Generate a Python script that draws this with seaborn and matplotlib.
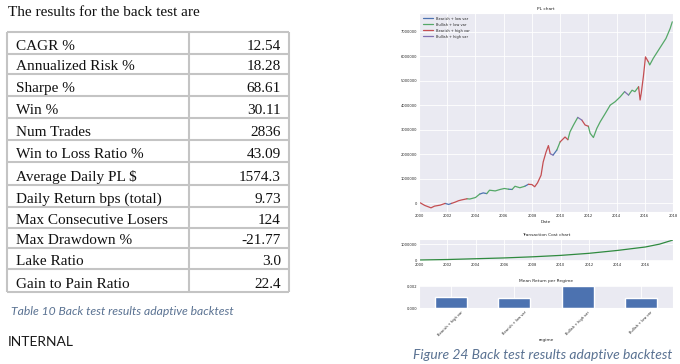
import numpy as np
import pandas as pd
import seaborn as sns
import matplotlib
matplotlib.use('Agg')
import matplotlib.pyplot as plt

# ---- table values (left side) ----
metric_names = ['CAGR %', 'Annualized Risk %', 'Sharpe %', 'Win %', 'Num Trades',
                'Win to Loss Ratio %', 'Average Daily PL $', 'Daily Return bps (total)',
                'Max Consecutive Losers', 'Max Drawdown %', 'Lake Ratio', 'Gain to Pain Ratio']
metric_values = ['12.54', '18.28', '68.61', '30.11', '2836', '43.09', '1574.3', '9.73',
                 '124', '-21.77', '3.0', '22.4']

# ---- PL chart ----
pl_years = [2000.0, 2000.07, 2000.4, 2000.85, 2001.1, 2001.5, 2001.85, 2002.1, 2002.3, 2002.55,
            2002.8, 2003.0, 2003.4, 2003.6, 2004.0, 2004.3, 2004.55, 2004.8, 2005.0, 2005.4,
            2005.75, 2006.05, 2006.35, 2006.6, 2006.8, 2007.15, 2007.5, 2007.75, 2008.0, 2008.2,
            2008.4, 2008.65, 2008.8, 2009.0, 2009.17, 2009.3, 2009.5, 2009.77, 2010.0, 2010.35,
            2010.55, 2010.7, 2010.95, 2011.25, 2011.54, 2011.77, 2012.0, 2012.13, 2012.36, 2012.6,
            2012.84, 2013.2, 2013.55, 2013.9, 2014.26, 2014.57, 2014.85, 2015.1, 2015.3, 2015.56,
            2015.67, 2015.75, 2015.9, 2016.05, 2016.25, 2016.35, 2016.6, 2016.9, 2017.2, 2017.5,
            2017.8, 2017.95]
pl_values = [0, 30000, -80000, -180000, -110000, -70000, 0, -40000, 0, 50000,
             110000, 140000, 190000, 180000, 240000, 380000, 430000, 400000, 540000, 510000,
             570000, 610000, 580000, 570000, 700000, 640000, 700000, 780000, 770000, 680000,
             840000, 1150000, 1690000, 2090000, 2360000, 2030000, 1970000, 2180000, 2510000, 2710000,
             2600000, 2920000, 3200000, 3510000, 3400000, 3200000, 3150000, 2860000, 2690000, 3060000,
             3330000, 3670000, 4010000, 4150000, 4350000, 4560000, 4420000, 4620000, 4560000, 4760000,
             4220000, 4500000, 5170000, 5980000, 5780000, 5650000, 5920000, 6190000, 6460000, 6730000,
             7140000, 7410000]
# BL bearish+low, UL bullish+low, BH bearish+high, UH bullish+high
pl_regime = ['BH', 'BH', 'BH', 'BH', 'BH', 'BH', 'BH', 'BL', 'BL', 'BH',
             'BH', 'BH', 'BH', 'UL', 'UL', 'UL', 'BL', 'BL', 'UL', 'UL',
             'UL', 'UL', 'UL', 'BL', 'UL', 'UL', 'UL', 'BL', 'BH', 'BH',
             'BH', 'BH', 'BH', 'BH', 'BH', 'BH', 'UH', 'BL', 'UL', 'BH',
             'BH', 'UL', 'UL', 'UL', 'UH', 'BH', 'BH', 'UL', 'UL', 'UL',
             'UL', 'UL', 'UL', 'UL', 'UL', 'UL', 'UH', 'UL', 'UL', 'UL',
             'BH', 'BH', 'BH', 'BH', 'BH', 'UL', 'UL', 'UL', 'UL', 'UL',
             'UL', 'UL']
regime_labels = {'BL': 'Bearish + low var', 'UL': 'Bullish + low var',
                 'BH': 'Bearish + high var', 'UH': 'Bullish + high var'}
regime_colors = {'Bearish + low var': '#4C72B0', 'Bullish + low var': '#55A868',
                 'Bearish + high var': '#C44E52', 'Bullish + high var': '#8172B2'}

# ---- transaction cost ----
tc_years = [2000, 2002, 2004, 2006, 2008, 2010, 2012, 2014, 2016, 2017, 2017.95]
tc_values = [0, 30000, 80000, 130000, 200000, 290000, 420000, 600000, 820000, 1000000, 1260000]

# ---- mean return per regime ----
bar_regimes = ['Bearish + high var', 'Bearish + low var', 'Bullish + high var', 'Bullish + low var']
bar_returns = [0.00106, 0.00091, 0.00201, 0.00091]

sns.set_style('darkgrid')
plt.rcParams['font.family'] = ['DejaVu Sans']

fig = plt.figure(figsize=(6.8, 3.64), dpi=100)
fig.patch.set_facecolor('white')

# background axes in pixel coords for the document text
bg = fig.add_axes([0, 0, 1, 1])
bg.set_xlim(0, 680)
bg.set_ylim(364, 0)
bg.axis('off')

serif = 'Liberation Serif'
bg.text(8, 16, 'The results for the back test are', family=serif, fontsize=11,
        va='baseline', ha='left', color='#111111')

row_edges = [32, 54, 74, 96, 118, 140, 162, 185, 207, 228, 248, 269, 292]
tab_left, tab_mid, tab_right = 7, 189, 289
line_c = '#c4c4c4'
for y in row_edges:
    bg.plot([tab_left, tab_right], [y, y], color=line_c, lw=1.5, solid_capstyle='butt')
for x in [tab_left, tab_mid, tab_right]:
    bg.plot([x, x], [row_edges[0], row_edges[-1]], color=line_c, lw=1.5, solid_capstyle='butt')
for i in range(len(metric_names)):
    yb = row_edges[i + 1] - 4
    bg.text(16, yb, metric_names[i], family=serif, fontsize=11, va='baseline', ha='left', color='#111111')
    bg.text(281, yb, metric_values[i], family=serif, fontsize=11, va='baseline', ha='right', color='#111111')

cap_c = '#5a7292'
bg.text(11, 315, 'Table 10 Back test results adaptive backtest', family='Lato', style='italic',
        fontsize=8.7, va='baseline', ha='left', color=cap_c)
bg.text(8, 346.5, 'INTERNAL', family='Lato', fontsize=10, va='baseline', ha='left', color='#1a1a1a')
bg.text(413, 359, 'Figure 24 Back test results adaptive backtest', family='Lato', style='italic',
        fontsize=10, va='baseline', ha='left', color=cap_c)

tick_fs = 2.6
title_fs = 3.2

# ---- PL chart ----
rows = []
run = 0
for i in range(1, len(pl_years)):
    if i == 1 or pl_regime[i] != pl_regime[i - 1]:
        run += 1
        rows.append((pl_years[i - 1], pl_values[i - 1], regime_labels[pl_regime[i]], run))
    rows.append((pl_years[i], pl_values[i], regime_labels[pl_regime[i]], run))
df = pd.DataFrame(rows, columns=['Date', 'PL', 'regime', 'run'])

ax1 = fig.add_axes([419 / 680, 1 - 212 / 364, 254 / 680, 199 / 364])
sns.lineplot(data=df, x='Date', y='PL', hue='regime', units='run', estimator=None,
             hue_order=list(regime_labels.values()), palette=regime_colors, lw=0.9, ax=ax1)
ax1.set_xlim(2000, 2018)
ax1.set_ylim(-350000, 7770000)
ax1.set_xticks(range(2000, 2019, 2))
ax1.set_xticklabels([str(y) for y in range(2000, 2019, 2)])
ax1.set_yticks(range(0, 7000001, 1000000))
ax1.set_yticklabels([str(v) for v in range(0, 7000001, 1000000)])
ax1.set_title('PL chart', fontsize=title_fs, pad=2)
ax1.set_xlabel('Date', fontsize=title_fs, labelpad=1.5)
ax1.set_ylabel('')
h, l = ax1.get_legend_handles_labels()
ax1.legend(h, l, loc='upper left', fontsize=tick_fs, frameon=False, handlelength=3,
           labelspacing=0.55, borderaxespad=0.6)

# ---- transaction cost chart ----
ax2 = fig.add_axes([419 / 680, 1 - 261 / 364, 254 / 680, 22 / 364])
sns.lineplot(x=tc_years, y=tc_values, color='#2f8a3f', lw=0.9, ax=ax2)
ax2.set_xlim(2000, 2017.95)
ax2.set_ylim(-63000, 1323000)
ax2.set_xticks(range(2000, 2017, 2))
ax2.set_xticklabels([str(y) for y in range(2000, 2017, 2)])
ax2.set_yticks([0, 1000000])
ax2.set_yticklabels(['0', '1000000'])
ax2.set_title('Transaction Cost chart', fontsize=title_fs, pad=2)

# ---- mean return per regime ----
ax3 = fig.add_axes([419 / 680, 1 - 308.3 / 364, 254 / 680, 23.3 / 364])
sns.barplot(x=bar_regimes, y=bar_returns, color='#4C72B0', saturation=1, width=0.5, ax=ax3)
ax3.set_xlim(-0.5, 3.5)
ax3.set_ylim(0, 0.00211)
ax3.set_yticks([0, 0.002])
ax3.set_yticklabels(['0.000', '0.002'])
ax3.set_title('Mean Return per Regime', fontsize=title_fs, pad=2)
ax3.set_xlabel('regime', fontsize=title_fs, labelpad=1)
plt.setp(ax3.get_xticklabels(), rotation=45, ha='center')

for ax in [ax1, ax2, ax3]:
    ax.tick_params(labelsize=tick_fs, pad=1.5, length=0)
    ax.grid(True, color='white', lw=0.6)

fig.savefig('out.png', dpi=100, facecolor='white')
